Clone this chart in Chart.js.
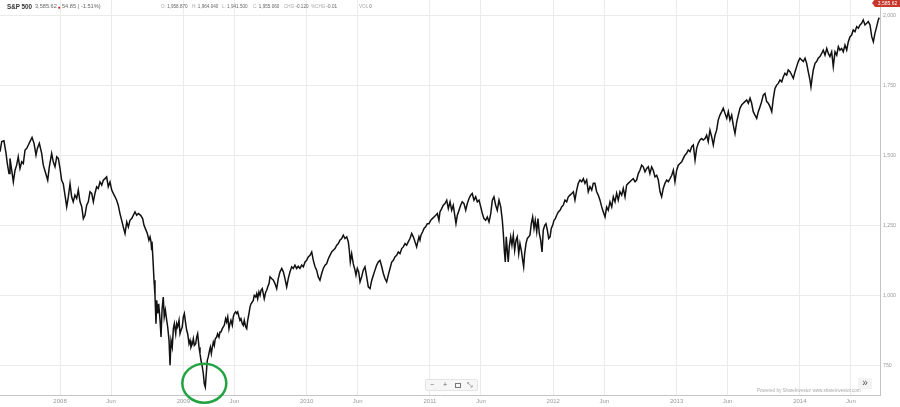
<!DOCTYPE html>
<html>
<head>
<meta charset="utf-8">
<script src="https://cdn.jsdelivr.net/npm/chart.js@4.4.1/dist/chart.umd.min.js"></script>
<style>
  html, body { margin: 0; padding: 0; background: #fff; }
  #wrap { position: relative; width: 900px; height: 407px; overflow: hidden; font-family: "Liberation Sans", Arial, sans-serif; }
  #wrap canvas { position: absolute; left: 0; top: 0; }
  .ov { position: absolute; white-space: nowrap; line-height: 1; }
  .hd { top: 4px; font-size: 5.6px; color: #666; }
  .sm { top: 5px; font-size: 4.6px; color: #666; }
  .sm b { font-weight: normal; color: #aaa; }
  #tag { left: 875px; top: -1px; width: 25px; height: 8px; background: #c7372c; color: #fff; font-size: 5px; line-height: 8px; text-align: center; }
  #tag:before { content: ""; position: absolute; left: -3px; top: 0; border-top: 4px solid transparent; border-bottom: 4px solid transparent; border-right: 3px solid #c7372c; }
  #zoombar { left: 425px; top: 379px; width: 51px; height: 10px; background: #f6f6f6; border: 1px solid #e4e4e4; border-radius: 2px; font-size: 7px; color: #666; }
  #zoombar span { position: absolute; top: 1px; }
  #more { left: 858px; top: 378px; width: 14px; height: 11px; background: #f3f3f3; font-size: 10px; color: #555; text-align: center; line-height: 10px; }
  #credit { left: 757px; top: 389px; font-size: 4.6px; color: #aaa; }
</style>
</head>
<body>
<div id="wrap">
  <canvas id="chart" width="900" height="407"></canvas>
  <div class="ov hd" style="left:7px;top:4px;font-size:6.3px;font-weight:bold;color:#333">S&amp;P 500</div>
  <div class="ov hd" style="left:35px">3,585.62</div>
  <div class="ov hd" style="left:57.5px;top:4.5px;color:#d22;font-size:5px">&#9679;</div>
  <div class="ov hd" style="left:62px">54.85 ( -1.51%)</div>
  <div class="ov sm" style="left:161px"><b>O:</b> 1,958.870</div>
  <div class="ov sm" style="left:192px"><b>H:</b> 1,964.040</div>
  <div class="ov sm" style="left:222px"><b>L:</b> 1,941.500</div>
  <div class="ov sm" style="left:253px"><b>C:</b> 1,955.060</div>
  <div class="ov sm" style="left:284px"><b>CHG</b> -0.120</div>
  <div class="ov sm" style="left:311px"><b>%CHG</b> -0.01</div>
  <div class="ov sm" style="left:359px"><b>VOL</b> 0</div>
  <div class="ov" id="tag">3,585.62</div>
  <div class="ov" id="zoombar">
    <span style="left:4px">&#8722;</span>
    <span style="left:17px">+</span>
    <span style="left:29px;top:3px;width:4px;height:3px;border:1px dashed #777"></span>
    <span style="left:41px">&#10529;</span>
  </div>
  <div class="ov" id="more">&raquo;</div>
  <div class="ov" id="credit">Powered by ShareInvestor www.shareinvestor.com</div>
</div>
<script>
// S&P 500 closes (decimal year, index level)
const dates = [
  2007.513,2007.527,2007.545,2007.562,2007.572,2007.586,2007.594,2007.608,2007.621,2007.635,2007.648,2007.661,2007.675,2007.689,2007.702,2007.716,2007.730,2007.743,2007.756,2007.773,2007.789,2007.805,2007.816,2007.832,2007.851,2007.864,2007.884,2007.900,2007.913,2007.932,2007.945,2007.959,2007.973,2007.986,
  2008.000,2008.013,2008.026,2008.040,2008.054,2008.067,2008.081,2008.094,2008.107,2008.121,2008.135,2008.148,2008.162,2008.176,2008.189,2008.202,2008.216,2008.229,2008.243,2008.257,2008.270,2008.283,2008.297,2008.310,2008.324,2008.338,2008.351,2008.365,2008.378,2008.391,2008.405,2008.419,2008.432,2008.446,2008.459,2008.472,2008.486,2008.500,2008.513,2008.527,2008.541,2008.554,2008.567,
  2008.581,2008.608,2008.622,2008.635,2008.654,2008.670,2008.681,2008.697,2008.708,2008.721,2008.730,2008.738,2008.743,2008.748,2008.756,2008.762,2008.770,2008.778,2008.784,2008.792,2008.800,2008.811,2008.819,2008.827,2008.837,2008.845,2008.854,2008.865,2008.873,2008.884,2008.892,2008.900,2008.910,2008.919,2008.927,2008.938,2008.946,2008.954,2008.965,2008.973,2008.981,2008.991,
  2009.000,2009.008,2009.019,2009.027,2009.035,2009.046,2009.054,2009.062,2009.073,2009.081,2009.089,2009.100,2009.108,2009.116,2009.127,2009.135,2009.143,2009.154,2009.162,2009.170,2009.178,2009.186,2009.194,2009.202,2009.210,2009.219,2009.227,2009.235,2009.243,2009.251,2009.259,2009.270,2009.278,2009.289,2009.297,2009.305,2009.316,2009.324,2009.332,2009.343,2009.351,2009.360,2009.370,2009.378,2009.386,2009.397,2009.405,2009.413,2009.425,2009.433,2009.441,2009.451,2009.459,2009.467,2009.478,2009.486,2009.494,2009.506,2009.514,2009.522,2009.532,2009.541,2009.549,2009.559,2009.567,2009.575,2009.587,2009.595,2009.603,2009.613,2009.622,2009.630,2009.640,2009.648,2009.656,2009.668,2009.676,2009.684,2009.695,
  2009.703,2009.716,2009.730,2009.743,2009.757,2009.770,2009.784,2009.798,2009.811,2009.824,2009.838,2009.851,2009.865,2009.879,2009.892,2009.905,2009.919,2009.932,2009.946,2009.960,2009.973,2009.987,
  2010.000,2010.013,2010.027,2010.041,2010.054,2010.068,2010.081,2010.094,2010.108,2010.122,2010.135,2010.149,2010.162,2010.176,2010.189,2010.203,2010.216,2010.230,2010.244,2010.257,2010.270,2010.284,2010.297,2010.311,2010.325,2010.338,2010.346,2010.354,2010.365,2010.378,2010.392,2010.400,2010.411,2010.422,2010.433,2010.446,2010.459,2010.473,2010.487,2010.500,2010.514,2010.528,2010.541,2010.554,2010.568,2010.581,2010.595,2010.609,2010.622,2010.635,2010.649,2010.662,2010.676,2010.690,2010.703,2010.716,2010.730,2010.743,2010.757,2010.771,2010.784,2010.798,2010.811,2010.824,2010.838,2010.852,2010.865,2010.879,2010.892,2010.901,2010.911,
  2010.919,2010.927,2010.941,2010.952,2010.965,2010.978,2010.992,
  2011.006,2011.019,2011.033,2011.047,2011.060,2011.073,2011.081,2011.095,2011.108,2011.122,2011.136,2011.149,2011.163,2011.176,2011.189,2011.203,2011.211,2011.222,2011.236,2011.249,2011.262,2011.276,2011.290,2011.303,2011.317,2011.330,2011.343,2011.357,2011.371,2011.384,2011.398,2011.412,2011.425,2011.438,2011.452,2011.465,2011.479,2011.493,2011.506,2011.519,2011.533,2011.546,2011.560,2011.574,2011.587,2011.595,2011.603,2011.611,2011.619,2011.627,2011.635,2011.643,2011.655,2011.665,2011.676,2011.687,2011.698,2011.708,2011.720,2011.730,2011.741,2011.752,2011.760,2011.768,2011.779,2011.789,2011.801,2011.811,2011.822,2011.833,2011.844,2011.854,2011.866,2011.876,2011.887,2011.898,2011.909,2011.919,2011.931,2011.941,2011.952,2011.963,2011.974,2011.984,2011.995,
  2012.006,2012.017,2012.028,2012.041,2012.055,2012.068,2012.081,2012.095,2012.109,2012.122,
  2012.136,2012.150,2012.163,2012.176,2012.190,2012.203,2012.217,2012.231,2012.244,2012.257,2012.271,2012.284,2012.298,2012.312,2012.325,2012.338,2012.352,2012.365,2012.379,2012.393,2012.406,2012.420,2012.433,2012.446,2012.460,2012.474,2012.487,2012.501,2012.514,2012.527,2012.541,2012.555,2012.568,2012.582,2012.595,2012.608,2012.622,2012.636,2012.649,2012.663,2012.676,2012.690,2012.703,2012.717,2012.730,2012.744,2012.758,2012.771,2012.784,2012.798,2012.811,2012.825,2012.839,2012.852,2012.866,2012.879,2012.892,2012.906,2012.920,2012.933,2012.947,2012.961,2012.974,2012.987,
  2013.001,2013.014,2013.028,2013.042,2013.055,2013.068,2013.082,2013.095,2013.109,2013.123,2013.136,2013.150,2013.163,2013.176,2013.190,2013.204,2013.217,2013.231,2013.244,2013.257,2013.271,2013.285,2013.298,2013.312,2013.325,2013.338,
  2013.352,2013.366,2013.379,2013.393,2013.407,2013.420,2013.433,2013.447,2013.460,2013.474,2013.488,2013.501,2013.514,2013.528,2013.541,2013.555,2013.569,2013.582,2013.596,2013.609,2013.622,2013.636,2013.650,2013.663,2013.677,2013.690,2013.703,2013.717,2013.731,2013.744,2013.758,2013.772,2013.785,2013.798,2013.812,2013.825,2013.839,2013.853,2013.866,2013.879,2013.893,2013.906,2013.920,2013.934,2013.947,2013.961,2013.974,2013.987,
  2014.001,2014.015,2014.028,2014.042,2014.055,2014.068,2014.082,2014.090,2014.101,2014.109,2014.123,2014.136,2014.149,2014.163,2014.177,2014.190,2014.204,2014.218,2014.231,2014.244,2014.258,2014.271,2014.285,2014.299,2014.312,2014.325,2014.339,2014.352,2014.366,2014.380,2014.393,2014.407,2014.420,2014.433,2014.447,2014.461,2014.474,2014.488,2014.501,2014.514,2014.528,2014.542,2014.555,2014.569,2014.583,2014.596,2014.609,2014.623,2014.636,2014.644
];
const closes = [
  1515,1551,1554,1509,1473,1437,1491,1449,1407,1449,1467,1497,1455,1479,1473,1521,1527,1539,1551,1566,1545,1503,1527,1545,1509,1467,1437,1413,1461,1509,1479,1461,1497,1491,
  1455,1413,1401,1360,1318,1354,1401,1354,1336,1360,1348,1378,1336,1318,1276,1288,1324,1336,1372,1366,1336,1366,1390,1384,1407,1396,1413,1419,1425,1390,1407,1378,1366,1354,1342,1324,1294,1270,1246,1223,1264,1246,1270,
  1276,1300,1288,1294,1288,1276,1252,1235,1223,1199,1211,1193,1163,1175,1109,1056,1002,901,984,937,972,913,853,949,996,925,949,913,889,841,752,841,817,883,901,865,901,889,913,865,877,889,
  925,937,901,877,865,829,841,817,829,847,823,829,853,865,817,794,770,746,722,686,674,722,770,782,800,817,794,817,835,823,847,853,865,853,871,871,883,889,895,919,907,925,883,901,913,895,925,937,943,937,943,925,913,919,901,895,913,889,883,913,937,961,972,978,984,1002,996,1008,990,1014,1002,1020,1026,1008,990,1014,1020,1032,1044,
  1068,1062,1056,1044,1026,1062,1086,1098,1086,1062,1032,1062,1086,1104,1098,1110,1098,1106,1098,1110,1104,1121,
  1127,1139,1145,1157,1127,1104,1092,1068,1056,1080,1098,1110,1115,1133,1145,1157,1163,1169,1181,1187,1199,1205,1217,1205,1211,1193,1163,1121,1151,1115,1092,1074,1098,1086,1050,1068,1092,1104,1068,1032,1026,1056,1074,1092,1110,1121,1127,1104,1080,1062,1050,1074,1098,1121,1127,1139,1145,1157,1151,1169,1175,1187,1181,1193,1205,1223,1211,1193,1175,1193,1211,
  1199,1217,1229,1241,1247,1258,1258,
  1270,1276,1282,1288,1294,1270,1300,1312,1324,1330,1342,1312,1336,1306,1324,1282,1258,1288,1306,1324,1336,1330,1306,1330,1348,1360,1366,1342,1354,1336,1342,1318,1294,1276,1270,1282,1264,1294,1342,1354,1324,1306,1342,1318,1270,1223,1163,1121,1211,1163,1121,1175,1211,1181,1217,1163,1199,1211,1151,1187,1163,1127,1104,1151,1187,1205,1211,1217,1258,1282,1241,1270,1229,1276,1223,1199,1157,1235,1252,1258,1235,1205,1211,1241,1252,
  1270,1276,1288,1300,1306,1318,1324,1342,1336,1354,
  1360,1366,1372,1342,1378,1402,1414,1408,1419,1402,1414,1372,1390,1378,1402,1402,1372,1360,1342,1318,1300,1282,1318,1306,1336,1318,1354,1336,1366,1342,1372,1360,1384,1354,1396,1402,1408,1414,1419,1408,1414,1437,1449,1467,1461,1443,1455,1461,1437,1461,1449,1425,1431,1414,1372,1354,1384,1402,1414,1408,1419,1431,1449,1408,
  1449,1467,1473,1479,1491,1503,1509,1521,1515,1533,1539,1485,1527,1545,1557,1562,1557,1562,1574,1551,1592,1568,1539,1574,1592,1628,
  1646,1658,1670,1652,1634,1658,1628,1646,1610,1580,1622,1646,1670,1682,1688,1694,1700,1688,1706,1688,1658,1646,1634,1658,1676,1694,1717,1723,1694,1688,1676,1658,1706,1741,1753,1759,1771,1765,1783,1795,1789,1807,1801,1789,1777,1801,1819,1837,
  1849,1843,1837,1849,1831,1801,1771,1747,1783,1807,1831,1837,1849,1855,1866,1878,1860,1884,1866,1855,1872,1819,1872,1860,1890,1878,1884,1872,1896,1878,1908,1926,1932,1950,1944,1962,1956,1968,1974,1986,1968,1974,1980,1968,1926,1908,1938,1962,1986,1994
];

const xTicks = [2008, 2008.414, 2009, 2009.414, 2010, 2010.414, 2011, 2011.414, 2012, 2012.414, 2013, 2013.414, 2014, 2014.414];
const xTickLabels = ['2008', 'Jun', '2009', 'Jun', '2010', 'Jun', '2011', 'Jun', '2012', 'Jun', '2013', 'Jun', '2014', 'Jun'];
const yTicks = [750, 1000, 1250, 1500, 1750, 2000];

const points = dates.map((d, i) => ({ x: d, y: closes[i] }));

// green circle round the March 2009 low
const lowMarker = {
  id: 'lowMarker',
  afterDraw(chart) {
    let lo = 0;
    closes.forEach((c, i) => { if (c < closes[lo]) lo = i; });
    const px = chart.scales.x.getPixelForValue(dates[lo]);
    const py = chart.scales.y.getPixelForValue(closes[lo]);
    const ctx = chart.ctx;
    ctx.save();
    ctx.beginPath();
    ctx.ellipse(px - 1, py - 4, 22, 19.5, 0, 0, Math.PI * 2);
    ctx.strokeStyle = '#23a443';
    ctx.lineWidth = 2.5;
    ctx.stroke();
    ctx.restore();
  }
};

new Chart(document.getElementById('chart'), {
  type: 'line',
  data: {
    datasets: [{
      data: points,
      borderColor: '#111',
      borderWidth: 1.5,
      pointRadius: 0,
      tension: 0,
      fill: false
    }]
  },
  plugins: [lowMarker],
  options: {
    responsive: false,
    animation: false,
    layout: { padding: 0 },
    plugins: { legend: { display: false }, tooltip: { enabled: false } },
    scales: {
      x: {
        type: 'linear',
        position: 'bottom',
        min: 2007.513,
        max: 2014.650,
        afterBuildTicks: s => { s.ticks = xTicks.map(v => ({ value: v })); },
        afterFit: s => { s.height = 12; },
        grid: { color: '#ebebeb', drawTicks: false },
        border: { color: '#c4c4c4' },
        ticks: {
          autoSkip: false, maxRotation: 0, padding: 3,
          color: '#999', font: { size: 6, family: 'Liberation Sans, Arial' },
          callback: (v, i) => xTickLabels[i]
        }
      },
      y: {
        position: 'right',
        min: 646,
        max: 2057,
        afterBuildTicks: s => { s.ticks = yTicks.map(v => ({ value: v })); },
        afterFit: s => { s.width = 20; s.paddingTop = 0; s.paddingBottom = 0; },
        grid: { color: '#ebebeb', drawTicks: false },
        border: { color: '#c4c4c4' },
        ticks: {
          padding: 3,
          color: '#999', font: { size: 5.2, family: 'Liberation Sans, Arial' },
          callback: v => v.toLocaleString('en-US')
        }
      }
    }
  }
});
</script>
</body>
</html>
